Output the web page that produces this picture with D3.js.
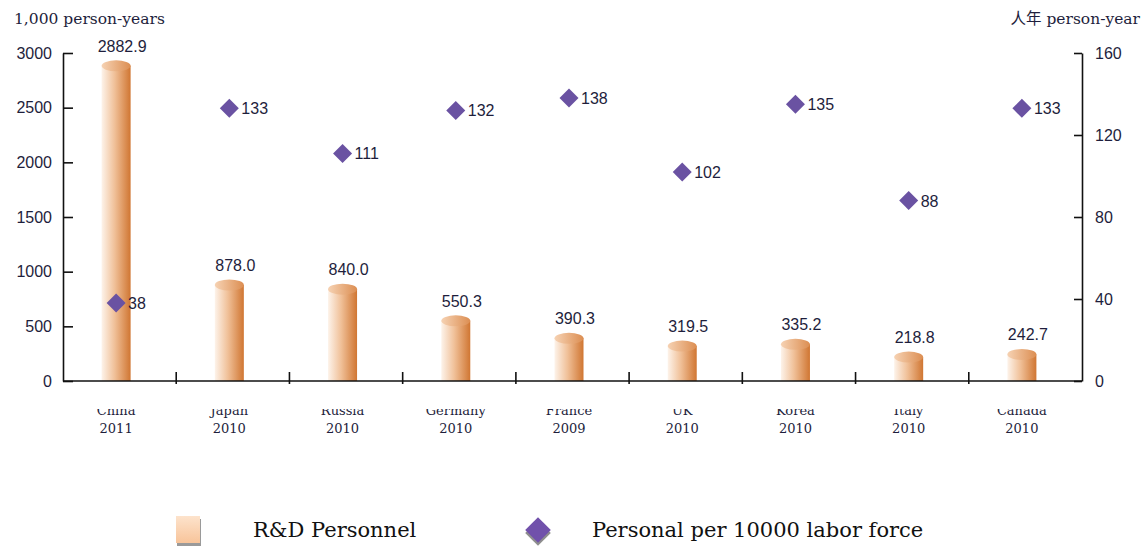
<!DOCTYPE html>
<html>
<head>
<meta charset="utf-8">
<script src="https://d3js.org/d3.v7.min.js"></script>
<style>
  html, body { margin: 0; padding: 0; background: #fff; }
  svg { display: block; }
</style>
</head>
<body>
<div id="chart"></div>
<script>
// data
const countries = ['China', 'Japan', 'Russia', 'Germany', 'France', 'UK', 'Korea', 'Italy', 'Canada']
const years = ['2011', '2010', '2010', '2010', '2009', '2010', '2010', '2010', '2010']
const personnel = [2882.9, 878.0, 840.0, 550.3, 390.3, 319.5, 335.2, 218.8, 242.7]
const perLabor = [38, 133, 111, 132, 138, 102, 135, 88, 133]
const leftTicks = [0, 500, 1000, 1500, 2000, 2500, 3000]
const rightTicks = [0, 40, 80, 120, 160]

const W = 1147, H = 547
const svg = d3.select('#chart').append('svg').attr('width', W).attr('height', H)

const x = d3.scaleBand().domain(countries).range([63, 1082])
const yL = d3.scaleLinear().domain([0, 3000]).range([381, 53])
const yR = d3.scaleLinear().domain([0, 160]).range([381, 53])
const cx = c => x(c) + x.bandwidth() / 2 - 3.5

const defs = svg.append('defs')
const g1 = defs.append('linearGradient').attr('id', 'body')
g1.append('stop').attr('offset', '0%').attr('stop-color', '#fdf3ea')
g1.append('stop').attr('offset', '45%').attr('stop-color', '#f0c098')
g1.append('stop').attr('offset', '100%').attr('stop-color', '#d07632')
const g2 = defs.append('linearGradient').attr('id', 'top')
g2.append('stop').attr('offset', '0%').attr('stop-color', '#f6d2b3')
g2.append('stop').attr('offset', '100%').attr('stop-color', '#dc8e52')
const g3 = defs.append('linearGradient').attr('id', 'leg').attr('x2', 0).attr('y2', 1)
g3.append('stop').attr('offset', '0%').attr('stop-color', '#fde3cc')
g3.append('stop').attr('offset', '100%').attr('stop-color', '#f8c49a')
defs.append('clipPath').attr('id', 'xclip')
  .append('rect').attr('x', 0).attr('y', 409).attr('width', W).attr('height', 60)

const numFont = '"Liberation Sans", Arial, sans-serif'
const serif = '"DejaVu Serif", "Liberation Serif", serif'
const ink = '#1e1e3c'

// bars (cylinders)
const bw = 29, ry = 5.5
const bars = svg.append('g')
countries.forEach((c, i) => {
  const xc = cx(c), yt = yL(personnel[i])
  bars.append('rect').attr('x', xc - bw / 2).attr('y', yt).attr('width', bw)
    .attr('height', yL(0) - yt).attr('fill', 'url(#body)')
  bars.append('ellipse').attr('cx', xc).attr('cy', yt).attr('rx', bw / 2).attr('ry', ry)
    .attr('fill', 'url(#top)')
  bars.append('text').attr('x', xc + 6).attr('y', yt - 14).attr('text-anchor', 'middle')
    .attr('font-family', numFont).attr('font-size', 16).attr('fill', ink)
    .text(personnel[i].toFixed(1))
})

// axes
const axL = svg.append('g').attr('transform', 'translate(63,0)')
  .call(d3.axisLeft(yL).tickValues(leftTicks).tickFormat(d3.format('d'))
    .tickSize(-10).tickSizeOuter(0).tickPadding(11))
const axR = svg.append('g').attr('transform', 'translate(1082,0)')
  .call(d3.axisRight(yR).tickValues(rightTicks).tickFormat(d3.format('d'))
    .tickSize(-8).tickSizeOuter(0).tickPadding(13))
;[axL, axR].forEach(a => {
  a.selectAll('path, line').attr('stroke', '#111').attr('stroke-width', 1.6)
  a.selectAll('text').attr('font-family', numFont).attr('font-size', 16).attr('fill', ink)
})
svg.append('line').attr('x1', 63).attr('x2', 1082).attr('y1', 381).attr('y2', 381)
  .attr('stroke', '#111').attr('stroke-width', 1.6)
svg.append('g').selectAll('line').data(countries.slice(1)).join('line')
  .attr('x1', d => x(d)).attr('x2', d => x(d)).attr('y1', 372).attr('y2', 384)
  .attr('stroke', '#111').attr('stroke-width', 1.6)

// x labels (top of first line is cut off, as in the source)
const xl = svg.append('g').attr('clip-path', 'url(#xclip)')
countries.forEach((c, i) => {
  const t = xl.append('text').attr('x', cx(c)).attr('text-anchor', 'middle')
    .attr('font-family', serif).attr('font-size', 13).attr('fill', ink)
  t.append('tspan').attr('x', cx(c)).attr('y', 415).text(c)
  t.append('tspan').attr('x', cx(c)).attr('y', 433).text(years[i])
})

// diamonds
const diamond = d3.symbol().type(d3.symbolDiamond2).size(230)
const dm = svg.append('g')
countries.forEach((c, i) => {
  const xc = cx(c), yc = yR(perLabor[i])
  dm.append('path').attr('d', diamond).attr('transform', `translate(${xc},${yc})`)
    .attr('fill', '#6a52a2')
  dm.append('text').attr('x', xc + 12).attr('y', yc + 6)
    .attr('font-family', numFont).attr('font-size', 16).attr('fill', ink)
    .text(perLabor[i])
})

// titles
svg.append('text').attr('x', 14).attr('y', 24).attr('font-family', serif)
  .attr('font-size', 15.5).attr('fill', ink).text('1,000 person-years')
svg.append('text').attr('x', 1140).attr('y', 24).attr('text-anchor', 'end').attr('font-family', serif)
  .attr('font-size', 15.5).attr('fill', ink)
  .html('<tspan font-family="Noto Sans CJK TC">人年</tspan> person-year')

// legend
svg.append('rect').attr('x', 177).attr('y', 519).attr('width', 24).attr('height', 27).attr('fill', '#9a9a9a')
svg.append('rect').attr('x', 176).attr('y', 516).attr('width', 24).attr('height', 27).attr('fill', 'url(#leg)')
svg.append('text').attr('x', 253).attr('y', 537).attr('font-family', serif)
  .attr('font-size', 21).attr('fill', '#111').text('R&D Personnel')
const bigDiamond = d3.symbol().type(d3.symbolDiamond2).size(420)
svg.append('path').attr('d', bigDiamond).attr('transform', 'translate(538,533)').attr('fill', '#8e8e8e')
svg.append('path').attr('d', bigDiamond).attr('transform', 'translate(538,530)').attr('fill', '#7151ab')
svg.append('text').attr('x', 592).attr('y', 537).attr('font-family', serif)
  .attr('font-size', 21).attr('fill', '#111').text('Personal per 10000 labor force')
</script>
</body>
</html>
